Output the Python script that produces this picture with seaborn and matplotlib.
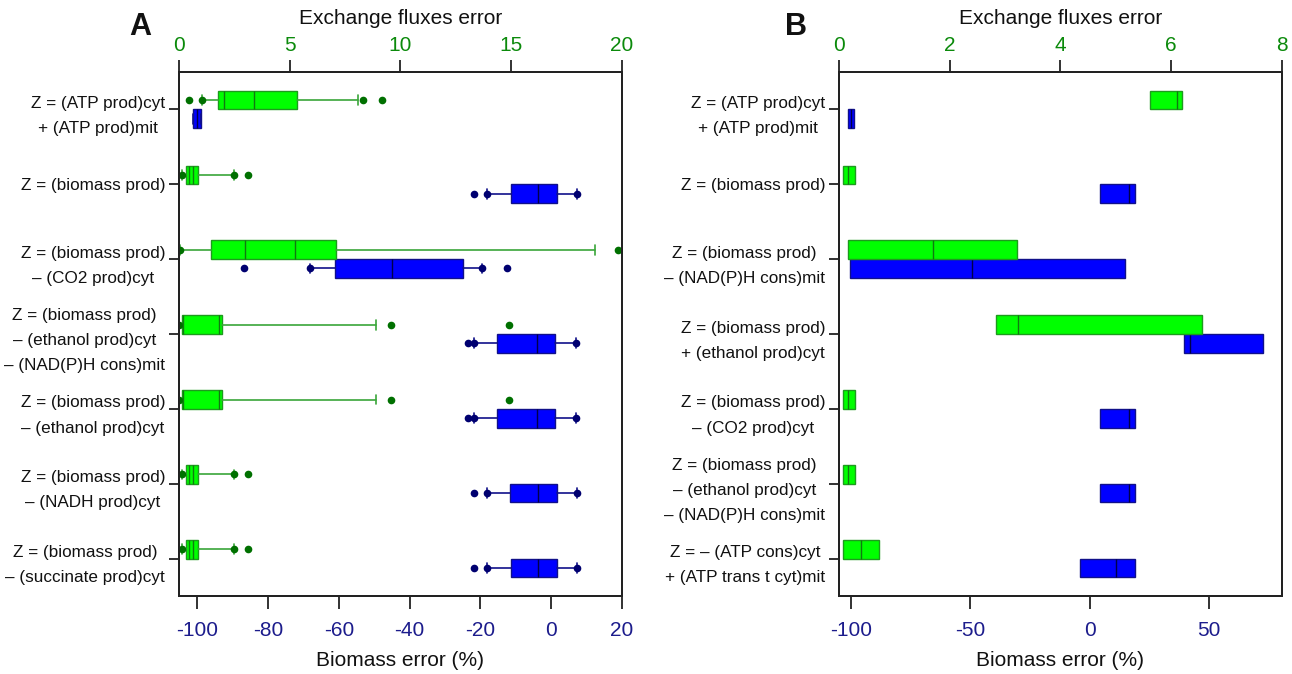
import matplotlib
matplotlib.use("Agg")
import matplotlib.pyplot as plt
import seaborn as sns

# ---- data ----
labels_a = [
    "Z = (ATP prod)cyt\n+ (ATP prod)mit",
    "Z = (biomass prod)",
    "Z = (biomass prod)\n– (CO2 prod)cyt",
    "Z = (biomass prod)\n– (ethanol prod)cyt\n– (NAD(P)H cons)mit",
    "Z = (biomass prod)\n– (ethanol prod)cyt",
    "Z = (biomass prod)\n– (NADH prod)cyt",
    "Z = (biomass prod)\n– (succinate prod)cyt",
]
labels_b = [
    "Z = (ATP prod)cyt\n+ (ATP prod)mit",
    "Z = (biomass prod)",
    "Z = (biomass prod)\n– (NAD(P)H cons)mit",
    "Z = (biomass prod)\n+ (ethanol prod)cyt",
    "Z = (biomass prod)\n– (CO2 prod)cyt",
    "Z = (biomass prod)\n– (ethanol prod)cyt\n– (NAD(P)H cons)mit",
    "Z = – (ATP cons)cyt\n+ (ATP trans t cyt)mit",
]

# panel A, exchange fluxes error (green, top axis)
a_green_whislo = [1.05, 0.14, 0.05, 0.01, 0.01, 0.14, 0.14]
a_green_q1 = [1.75, 0.33, 1.44, 0.12, 0.12, 0.32, 0.33]
a_green_med = [2.04, 0.45, 3.00, 0.20, 0.20, 0.45, 0.45]
a_green_mean = [3.40, 0.62, 5.25, 1.82, 1.82, 0.62, 0.62]
a_green_q3 = [5.33, 0.84, 7.09, 1.95, 1.95, 0.84, 0.84]
a_green_whishi = [8.09, 2.48, 18.78, 8.89, 8.89, 2.50, 2.50]
a_green_fliers = [
    [0.47, 1.05, 8.29, 9.15],
    [0.14, 2.48, 3.10],
    [0.05, 19.83],
    [0.01, 9.56, 14.9],
    [0.01, 9.56, 14.9],
    [0.14, 2.50, 3.10],
    [0.14, 2.50, 3.10],
]

# panel A, biomass error % (blue, bottom axis)
a_blue_whislo = [-101.1, -18.1, -68.2, -21.8, -21.8, -18.1, -18.1]
a_blue_q1 = [-101.1, -11.4, -61.1, -15.4, -15.4, -11.7, -11.4]
a_blue_med = [-100.0, -3.67, -44.9, -3.95, -3.95, -3.67, -3.67]
a_blue_q3 = [-99.0, 1.53, -24.9, 1.13, 1.13, 1.53, 1.53]
a_blue_whishi = [-99.0, 7.18, -19.5, 6.98, 6.98, 7.18, 7.18]
a_blue_fliers = [
    [],
    [-21.75, -18.1, 7.18],
    [-86.7, -68.2, -19.5, -12.6],
    [-23.4, -21.8, 6.98],
    [-23.4, -21.8, 6.98],
    [-21.75, -18.1, 7.18],
    [-21.75, -18.1, 7.18],
]

# panel B (boxes only)
b_green_q1 = [5.62, 0.08, 0.16, 2.83, 0.08, 0.08, 0.08]
b_green_med = [6.11, 0.17, 1.70, 3.24, 0.17, 0.17, 0.40]
b_green_q3 = [6.20, 0.28, 3.21, 6.56, 0.28, 0.28, 0.73]
b_blue_q1 = [-101.3, 4.3, -100.3, 39.5, 4.3, 4.3, -4.1]
b_blue_med = [-100.0, 16.4, -49.4, 42.0, 16.4, 16.4, 11.0]
b_blue_q3 = [-98.9, 19.0, 14.8, 72.6, 19.0, 19.0, 19.0]

top_ticks_a = [0, 5, 10, 15, 20]
bot_ticks_a = [-100, -80, -60, -40, -20, 0, 20]
top_ticks_b = [0, 2, 4, 6, 8]
bot_ticks_b = [-100, -50, 0, 50]

# ---- style ----
sns.set_style("ticks")
plt.rcParams["font.family"] = ["Liberation Sans", "DejaVu Sans"]
plt.rcParams["text.color"] = "#111111"

GREEN_FILL, GREEN_EDGE, GREEN_LINE, GREEN_DOT = "#00ff00", "#1e9a1e", "#3aa63a", "#007000"
BLUE_FILL, BLUE_EDGE, BLUE_DOT = "#0000ff", "#10108a", "#000070"
GREEN_TXT, BLUE_TXT = "#0b8a0b", "#1c1c8c"


def make_stats(q1, med, q3, whislo=None, whishi=None, mean=None, fliers=None):
    stats = []
    for i in range(len(q1)):
        d = {
            "q1": q1[i], "med": med[i], "q3": q3[i],
            "whislo": whislo[i] if whislo else q1[i],
            "whishi": whishi[i] if whishi else q3[i],
            "fliers": fliers[i] if fliers else [],
        }
        if mean:
            d["mean"] = mean[i]
        stats.append(d)
    return stats


def draw(ax, green, blue, labels, top_lim, top_ticks, bot_lim, bot_ticks, whiskers):
    n = len(labels)
    top = ax.twiny()
    common = dict(widths=0.25, orientation="horizontal", patch_artist=True,
                  manage_ticks=False, capwidths=0.13, showcaps=whiskers)
    ax.bxp(blue, positions=[i + 0.125 for i in range(n)],
           boxprops=dict(facecolor=BLUE_FILL, edgecolor=BLUE_EDGE, linewidth=1),
           medianprops=dict(color="#00004a", linewidth=1),
           whiskerprops=dict(color=BLUE_EDGE, linewidth=1.2),
           capprops=dict(color=BLUE_EDGE, linewidth=1.2),
           flierprops=dict(marker="o", markerfacecolor=BLUE_DOT,
                           markeredgecolor="none", markersize=5.5),
           **common)
    top.bxp(green, positions=[i - 0.125 for i in range(n)],
            showmeans=whiskers, meanline=True,
            boxprops=dict(facecolor=GREEN_FILL, edgecolor=GREEN_EDGE, linewidth=1),
            medianprops=dict(color="#107a10", linewidth=1),
            meanprops=dict(color="#107a10", linewidth=1, linestyle="-"),
            whiskerprops=dict(color=GREEN_LINE, linewidth=1.2),
            capprops=dict(color=GREEN_LINE, linewidth=1.2),
            flierprops=dict(marker="o", markerfacecolor=GREEN_DOT,
                            markeredgecolor="none", markersize=5.5),
            **common)

    ax.set_ylim(n - 0.5, -0.5)
    ax.set_yticks(range(n))
    ax.set_yticklabels(labels, fontsize=12.3, color="#111111")
    for t in ax.get_yticklabels():
        t.set_multialignment("center")
        t.set_linespacing(1.85)
    ax.tick_params(axis="y", length=7, width=1.3, pad=3, color="#222222")

    ax.set_xlim(*bot_lim)
    ax.set_xticks(bot_ticks)
    ax.set_xticklabels([str(v) for v in bot_ticks])
    ax.tick_params(axis="x", length=9, width=1.3, pad=9, labelsize=15,
                   labelcolor=BLUE_TXT, color="#222222")
    ax.set_xlabel("Biomass error (%)", fontsize=15, labelpad=8, color="#111111")

    top.set_xlim(*top_lim)
    top.set_xticks(top_ticks)
    top.tick_params(axis="x", length=9, width=1.3, pad=3, labelsize=15,
                    labelcolor=GREEN_TXT, color="#222222")
    top.set_xlabel("Exchange fluxes error", fontsize=15, labelpad=9, color="#111111")

    for a in (ax, top):
        for s in a.spines.values():
            s.set_visible(True)
            s.set_linewidth(1.4)
            s.set_color("#222222")


fig = plt.figure(figsize=(12.92, 6.74), dpi=100)
ax_a = fig.add_axes([0.1385, 0.1157, 0.3429, 0.7775])
ax_b = fig.add_axes([0.6494, 0.1157, 0.3426, 0.7775])

green_a = make_stats(a_green_q1, a_green_med, a_green_q3, a_green_whislo,
                     a_green_whishi, a_green_mean, a_green_fliers)
blue_a = make_stats(a_blue_q1, a_blue_med, a_blue_q3, a_blue_whislo,
                    a_blue_whishi, None, a_blue_fliers)
green_b = make_stats(b_green_q1, b_green_med, b_green_q3)
blue_b = make_stats(b_blue_q1, b_blue_med, b_blue_q3)

draw(ax_a, green_a, blue_a, labels_a, (0, 20), top_ticks_a, (-105.2, 20), bot_ticks_a, True)
draw(ax_b, green_b, blue_b, labels_b, (0, 8), top_ticks_b, (-105, 80.3), bot_ticks_b, False)

fig.text(140 / 1292, 1 - 27 / 674, "A", fontsize=22, weight="bold", ha="center", va="center")
fig.text(796 / 1292, 1 - 27 / 674, "B", fontsize=22, weight="bold", ha="center", va="center")

fig.savefig("out.png", dpi=100)
